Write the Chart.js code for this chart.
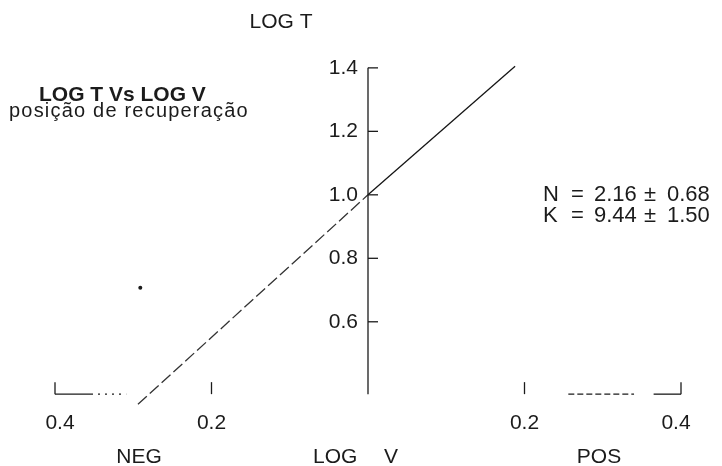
<!DOCTYPE html>
<html>
<head>
<meta charset="utf-8">
<script src="https://cdn.jsdelivr.net/npm/chart.js@4/dist/chart.umd.min.js"></script>
<style>
  html, body { margin: 0; padding: 0; background: #fff; }
  #wrap { width: 722px; height: 466px; position: relative; }
</style>
</head>
<body>
<div id="wrap"><canvas id="chart"></canvas></div>
<script>
// fitted line LOG T vs LOG V
const fitX = [-0.294, 0, 0.188];
const fitY = [0.34, 1.0, 1.405];
// lone mark left on the sheet
const strayX = [-0.291];
const strayY = [0.707];

const yTicks = [0.6, 0.8, 1.0, 1.2, 1.4];
const yTickLabels = ['0.6', '0.8', '1.0', '1.2', '1.4'];
const xTicks = [-0.4, -0.2, 0.2, 0.4];
const xTickLabels = ['0.4', '0.2', '0.2', '0.4'];
const xAxisAt = 0.372;

const statN = ['N', '=', '2.16', '±', '0.68'];
const statK = ['K', '=', '9.44', '±', '1.50'];

const ink = '#1b1b1b';
const font = 'Liberation Sans, Arial, sans-serif';

const axesPlugin = {
    id: 'axesPlugin',
    afterDraw(chart) {
        const ctx = chart.ctx;
        const xs = chart.scales.x, ys = chart.scales.y;
        const px = v => xs.getPixelForValue(v);
        const py = v => ys.getPixelForValue(v);
        const ax = px(0), ay = py(xAxisAt);

        ctx.save();
        ctx.strokeStyle = ink;
        ctx.fillStyle = ink;
        ctx.lineWidth = 1.3;

        // vertical axis
        ctx.beginPath();
        ctx.moveTo(ax, py(1.4));
        ctx.lineTo(ax, ay);
        ctx.stroke();
        yTicks.forEach(v => {
            ctx.beginPath();
            ctx.moveTo(ax, py(v));
            ctx.lineTo(ax + 10, py(v));
            ctx.stroke();
        });

        // horizontal axis, broken as on the sheet
        const seg = (a, b, dash) => {
            ctx.setLineDash(dash);
            ctx.beginPath();
            ctx.moveTo(px(a), ay);
            ctx.lineTo(px(b), ay);
            ctx.stroke();
        };
        seg(-0.4, -0.354, []);
        seg(-0.354, -0.309, [2, 5]);
        seg(0.256, 0.34, [6, 3]);
        seg(0.365, 0.4, []);
        ctx.setLineDash([]);
        xTicks.forEach(v => {
            ctx.beginPath();
            ctx.moveTo(px(v), ay);
            ctx.lineTo(px(v), ay - 12);
            ctx.stroke();
        });

        // tick labels
        ctx.font = '21px ' + font;
        ctx.textBaseline = 'middle';
        ctx.textAlign = 'right';
        yTicks.forEach((v, i) => ctx.fillText(yTickLabels[i], ax - 10, py(v)));
        ctx.textAlign = 'center';
        xTicks.forEach((v, i) => ctx.fillText(xTickLabels[i], px(v) + (Math.abs(v) > 0.3 ? -Math.sign(v) * 5 : 0), 423));

        // axis titles
        ctx.fillText('LOG T', 281, 22);
        ctx.fillText('NEG', 139, 457);
        ctx.fillText('POS', 599, 457);
        ctx.textAlign = 'left';
        ctx.fillText('LOG', 313, 457);
        ctx.fillText('V', 384, 457);

        // heading
        ctx.font = 'bold 21px ' + font;
        ctx.fillText('LOG T Vs LOG V', 39, 95);
        ctx.textBaseline = 'alphabetic';
        ctx.font = '20px ' + font;
        ctx.letterSpacing = '1.2px';
        ctx.fillText('posição de recuperação', 9, 117);
        ctx.letterSpacing = '0px';

        // fit constants
        ctx.textBaseline = 'middle';
        ctx.font = '22px ' + font;
        const cols = [543, 571, 594, 644, 667];
        statN.forEach((t, i) => ctx.fillText(t, cols[i], 195));
        statK.forEach((t, i) => ctx.fillText(t, cols[i], 216));
        ctx.restore();
    }
};

new Chart(document.getElementById('chart'), {
    type: 'line',
    data: {
        datasets: [{
            label: 'LOG T',
            data: fitX.map((x, i) => ({ x: x, y: fitY[i] })),
            borderColor: '#151515',
            borderWidth: 1.3,
            pointRadius: 0,
            fill: false,
            segment: {
                borderDash: c => c.p0DataIndex === 0 ? [12, 4] : undefined,
                borderColor: c => c.p0DataIndex === 0 ? '#333' : undefined
            }
        }, {
            label: 'ponto',
            data: strayX.map((x, i) => ({ x: x, y: strayY[i] })),
            showLine: false,
            pointRadius: 2,
            pointBackgroundColor: ink,
            pointBorderWidth: 0
        }]
    },
    options: {
        responsive: true,
        maintainAspectRatio: false,
        animation: false,
        layout: { padding: { left: 55, right: 41, top: 52, bottom: 49 } },
        scales: {
            x: { type: 'linear', min: -0.4, max: 0.4, display: false },
            y: { type: 'linear', min: 0.3, max: 1.45, display: false }
        },
        plugins: {
            legend: { display: false },
            tooltip: { enabled: false }
        }
    },
    plugins: [axesPlugin]
});
</script>
</body>
</html>
